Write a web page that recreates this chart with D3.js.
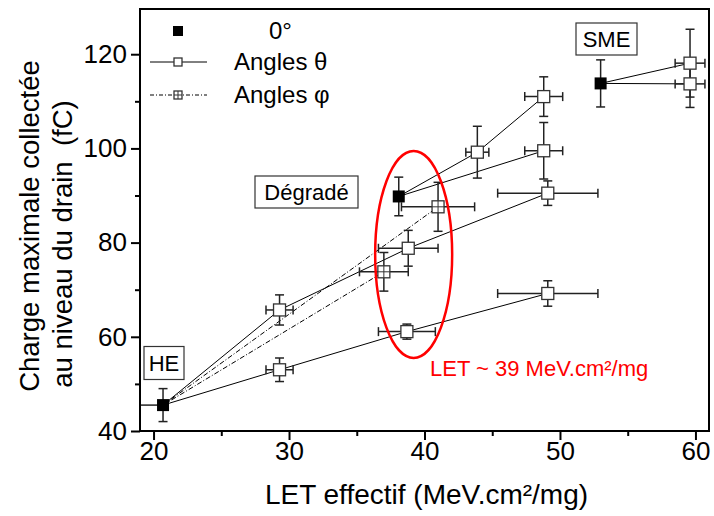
<!DOCTYPE html>
<html><head><meta charset="utf-8">
<script src="https://cdn.jsdelivr.net/npm/d3@7"></script>
<style>
body{margin:0;background:#fff;}
text{font-family:"Liberation Sans",Arial,sans-serif;}
</style></head>
<body><svg id="c" width="714" height="516"></svg>
<script>
// ---- data ----
const zeroLabels = ["HE", "Dégradé", "SME"];
const zeroX = [20.7, 38.1, 53.0];
const zeroY = [45.5, 89.8, 113.8];
const zeroYErr = [3.5, 4.1, 5.0];
const zeroXErrLeft = [1.8, 0, 0];

const thetaX = [29.3, 29.3, 38.7, 38.8, 49.1, 49.1, 43.9, 48.8, 48.8, 59.6, 59.6];
const thetaY = [53.0, 65.7, 61.1, 78.8, 69.2, 90.5, 99.2, 111.0, 99.5, 118.1, 113.7];
const thetaXErr = [1.0, 1.0, 2.1, 2.2, 3.7, 3.7, 0.85, 1.4, 1.4, 1.1, 1.1];
const thetaYErr = [2.5, 3.2, 1.6, 3.8, 2.7, 2.6, 5.5, 4.2, 6.0, 7.2, 5.0];
// each theta line: start at a 0° point, then theta point indices
const thetaLineStart = [0, 0, 1, 1, 2, 2];
const thetaLinePts = [[0, 2, 4], [1, 3, 5], [6, 7], [8], [9], [10]];

const phiX = [37.0, 41.0];
const phiY = [73.8, 87.6];
const phiXErr = [1.8, 2.7];
const phiYErr = [4.1, 5.2];
const phiLineStart = [0, 0];
const phiLinePts = [[0], [1]];

const xTicks = [20, 30, 40, 50, 60];
const xMinor = [25, 35, 45, 55];
const yTicks = [40, 60, 80, 100, 120];
const yMinor = [50, 70, 90, 110];
const xDomain = [19, 61];
const yDomain = [40, 129.6];

const legendLabels = ["0°", "Angles θ", "Angles φ"];
const ellipseNote = "LET ~ 39 MeV.cm²/mg";
const xTitle = "LET effectif (MeV.cm²/mg)";
const yTitle1 = "Charge maximale collectée";
const yTitle2 = "au niveau du drain  (fC)";

// ---- layout ----
const L = 140, R = 709, T = 9, B = 431;
const svg = d3.select("#c");
const x = d3.scaleLinear().domain(xDomain).range([L, R]);
const y = d3.scaleLinear().domain(yDomain).range([B, T]);

svg.append("clipPath").attr("id", "clip").append("rect")
  .attr("x", L).attr("y", T).attr("width", R - L).attr("height", B - T);

const plot = svg.append("g").attr("clip-path", "url(#clip)");
const ink = "#222";
const cap = 4.5;

// connecting lines
const lineGen = d3.line().x(d => x(d[0])).y(d => y(d[1]));
thetaLinePts.forEach((pts, i) => {
  const s = thetaLineStart[i];
  const data = [[zeroX[s], zeroY[s]]].concat(pts.map(k => [thetaX[k], thetaY[k]]));
  plot.append("path").attr("d", lineGen(data)).attr("fill", "none")
    .attr("stroke", "#000").attr("stroke-width", 1);
});
phiLinePts.forEach((pts, i) => {
  const s = phiLineStart[i];
  const data = [[zeroX[s], zeroY[s]]].concat(pts.map(k => [phiX[k], phiY[k]]));
  plot.append("path").attr("d", lineGen(data)).attr("fill", "none")
    .attr("stroke", "#000").attr("stroke-width", 1).attr("stroke-dasharray", "5,2,1,2");
});

// error bars
function yErr(cx, cy, e) {
  const px = x(cx), y0 = y(cy - e), y1 = y(cy + e);
  plot.append("line").attr("x1", px).attr("x2", px).attr("y1", y0).attr("y2", y1).attr("stroke", ink).attr("stroke-width", 1.5);
  [y0, y1].forEach(v => plot.append("line").attr("x1", px - cap).attr("x2", px + cap).attr("y1", v).attr("y2", v).attr("stroke", ink).attr("stroke-width", 1.5));
}
function xErr(cx, cy, eL, eR, caps) {
  const py = y(cy), x0 = x(cx - eL), x1 = x(cx + eR);
  plot.append("line").attr("x1", x0).attr("x2", x1).attr("y1", py).attr("y2", py).attr("stroke", ink).attr("stroke-width", 1.5);
  if (caps) [x0, x1].forEach(v => plot.append("line").attr("x1", v).attr("x2", v).attr("y1", py - cap).attr("y2", py + cap).attr("stroke", ink).attr("stroke-width", 1.5));
}
zeroX.forEach((v, i) => {
  yErr(v, zeroY[i], zeroYErr[i]);
  if (zeroXErrLeft[i] > 0) xErr(v, zeroY[i], zeroXErrLeft[i], 0, true);
});
thetaX.forEach((v, i) => { yErr(v, thetaY[i], thetaYErr[i]); xErr(v, thetaY[i], thetaXErr[i], thetaXErr[i], true); });
phiX.forEach((v, i) => { yErr(v, phiY[i], phiYErr[i]); xErr(v, phiY[i], phiXErr[i], phiXErr[i], true); });

// markers
const ms = 12;
function openSq(g, px, py, s, cross) {
  g.append("rect").attr("x", px - s / 2).attr("y", py - s / 2).attr("width", s).attr("height", s)
    .attr("fill", "#fff").attr("stroke", "#333").attr("stroke-width", 1.3);
  if (cross) {
    g.append("line").attr("x1", px - s / 2).attr("x2", px + s / 2).attr("y1", py).attr("y2", py).attr("stroke", "#333").attr("stroke-width", 1);
    g.append("line").attr("x1", px).attr("x2", px).attr("y1", py - s / 2).attr("y2", py + s / 2).attr("stroke", "#333").attr("stroke-width", 1);
  }
}
function fillSq(g, px, py, s) {
  g.append("rect").attr("x", px - s / 2).attr("y", py - s / 2).attr("width", s).attr("height", s).attr("fill", "#000");
}
thetaX.forEach((v, i) => openSq(plot, x(v), y(thetaY[i]), ms, false));
phiX.forEach((v, i) => openSq(plot, x(v), y(phiY[i]), ms, true));
zeroX.forEach((v, i) => fillSq(plot, x(v), y(zeroY[i]), ms));

// axes
const ax = svg.append("g");
const fs = 26;
ax.append("g").attr("transform", `translate(0,${B})`)
  .call(d3.axisBottom(x).tickValues(xTicks).tickSize(9).tickPadding(2).tickFormat(d3.format("d")));
ax.append("g").attr("transform", `translate(0,${B})`)
  .call(d3.axisBottom(x).tickValues(xMinor).tickSize(5).tickFormat(""));
ax.append("g").attr("transform", `translate(${L},0)`)
  .call(d3.axisLeft(y).tickValues(yTicks).tickSize(9).tickPadding(4).tickFormat(d3.format("d")));
ax.append("g").attr("transform", `translate(${L},0)`)
  .call(d3.axisLeft(y).tickValues(yMinor).tickSize(5).tickFormat(""));
ax.selectAll(".domain").remove();
ax.selectAll(".tick line").attr("stroke", "#000").attr("stroke-width", 2);
ax.selectAll(".tick text").attr("font-size", fs).attr("fill", "#000").attr("font-family", "Liberation Sans, Arial, sans-serif");
svg.append("rect").attr("x", L).attr("y", T).attr("width", R - L).attr("height", B - T)
  .attr("fill", "none").attr("stroke", "#000").attr("stroke-width", 2);

// titles
svg.append("text").attr("x", (L + R) / 2 + 2).attr("y", 504).attr("text-anchor", "middle")
  .attr("font-size", 28).text(xTitle);
svg.append("text").attr("transform", "translate(39,226) rotate(-90)").attr("text-anchor", "middle")
  .attr("font-size", 27.5).text(yTitle1);
svg.append("text").attr("transform", "translate(72,244) rotate(-90)").attr("text-anchor", "middle")
  .attr("font-size", 27.5).style("white-space", "pre").text(yTitle2);

// boxed labels
function boxLabel(txt, cx, cy, w, h) {
  svg.append("rect").attr("x", cx - w / 2).attr("y", cy - h / 2).attr("width", w).attr("height", h)
    .attr("fill", "#fff").attr("stroke", "#333").attr("stroke-width", 1.2);
  svg.append("text").attr("x", cx).attr("y", cy + 8).attr("text-anchor", "middle").attr("font-size", 22).text(txt);
}
boxLabel(zeroLabels[0], 164, 363, 40, 33);
boxLabel(zeroLabels[1], 306.5, 192, 103, 32);
boxLabel(zeroLabels[2], 606.5, 39, 61, 32);

// red ellipse & note
svg.append("ellipse").attr("cx", x(39.2)).attr("cy", y(77.5)).attr("rx", 38.5).attr("ry", 103.5)
  .attr("fill", "none").attr("stroke", "#ff0000").attr("stroke-width", 2.5);
svg.append("text").attr("x", 430).attr("y", 376).attr("font-size", 22).attr("fill", "#ff0000").text(ellipseNote);

// legend
const lg = svg.append("g");
fillSq(lg, 178, 31, 10);
lg.append("text").attr("x", 269).attr("y", 39).attr("font-size", 24).text(legendLabels[0]);
lg.append("line").attr("x1", 150).attr("x2", 207).attr("y1", 62).attr("y2", 62).attr("stroke", "#000").attr("stroke-width", 1);
openSq(lg, 178, 62, 8, false);
lg.append("text").attr("x", 234).attr("y", 70).attr("font-size", 24).text(legendLabels[1]);
lg.append("line").attr("x1", 150).attr("x2", 207).attr("y1", 95).attr("y2", 95).attr("stroke", "#000").attr("stroke-width", 1).attr("stroke-dasharray", "4,2,1,2");
openSq(lg, 178, 95, 8, true);
lg.append("text").attr("x", 234).attr("y", 103).attr("font-size", 24).text(legendLabels[2]);
</script></body></html>
